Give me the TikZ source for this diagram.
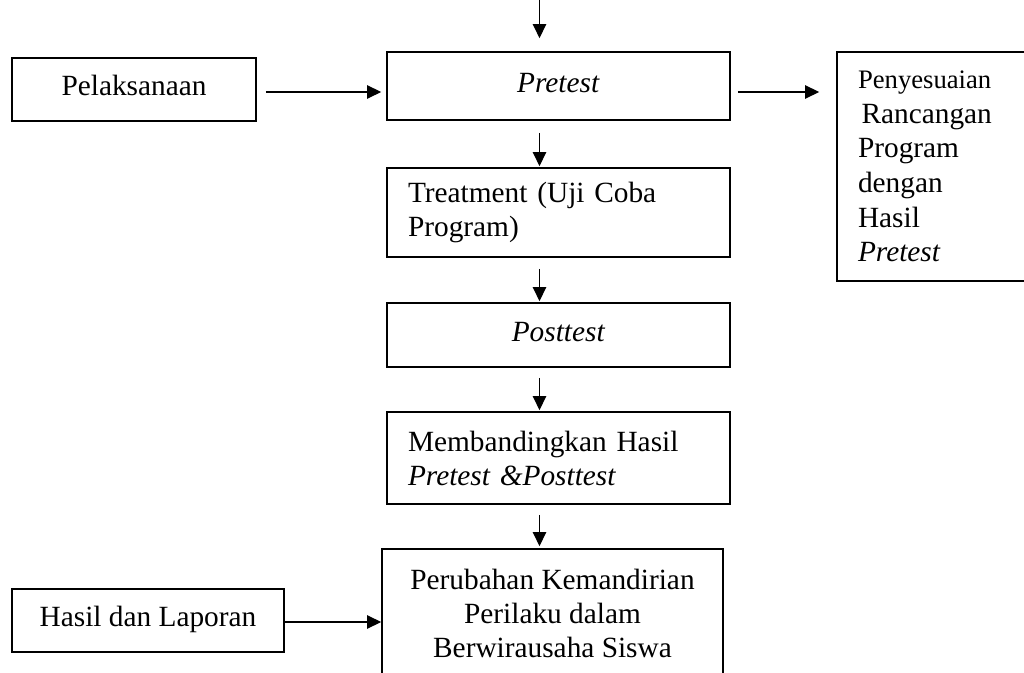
\documentclass[tikz,border=0pt]{standalone}
\usepackage{fontspec}
\setmainfont{Liberation Serif}
\usetikzlibrary{arrows.meta}
\begin{document}
\begin{tikzpicture}[x=0.75pt,y=-0.75pt,
  box/.style={draw,line width=1.25pt,rectangle,inner sep=0pt,font=\fontsize{22}{25.5}\selectfont},
  single/.style={box,text height=15.4pt,text depth=6.2pt},
  leftbox/.style={box,align=left,inner xsep=15.75pt,inner ysep=0pt},
  conn/.style={line width=1pt,-{Triangle[length=10.5pt,width=10pt]}}
]
\useasboundingbox (0,0) rectangle (1024,673);
\clip (0,0) rectangle (1024,673);
\node[single,minimum width=183pt,minimum height=47.25pt] (pel) at (134,89.5) {Pelaksanaan};
\node[single,minimum width=257.25pt,minimum height=51pt] (pre) at (558.5,86) {\textit{Pretest}};
\node[leftbox,text width=225.75pt,minimum height=66.75pt] (treat) at (558.5,212.5) {Treatment (Uji Coba\\Program)};
\node[single,minimum width=257.25pt,minimum height=48pt] (post) at (558.5,335) {\textit{Posttest}};
\node[leftbox,text width=225.75pt,minimum height=69pt] (comp) at (558.5,458) {Membandingkan Hasil\\\textit{Pretest \&Posttest}};
\node[box,align=center,minimum width=255.75pt,minimum height=96.75pt] (res) at (552.5,613.5) {Perubahan Kemandirian\\Perilaku dalam\\Berwirausaha Siswa};
\node[single,minimum width=204pt,minimum height=47.25pt] (hasil) at (148,620.5) {Hasil dan Laporan};
\node[leftbox,font=\fontsize{22}{26}\selectfont,text width=127.5pt,minimum height=171.75pt] (peny) at (943,166.5)
  {{\fontsize{20}{26}\selectfont Penyesuaian}\\\hspace*{0.12em}Rancangan\\Program\\dengan\\Hasil\\\textit{Pretest}};
\coordinate (ax) at (539.5,0);
\coordinate (ay) at (0,92);
\coordinate (by) at (0,622);
\draw[conn,shorten >=9.75pt] (ax) -- (pre.north -| ax);
\draw[conn,shorten <=9pt,shorten >=0.75pt] (pre.south -| ax) -- (treat.north -| ax);
\draw[conn,shorten <=8.25pt,shorten >=0.75pt] (treat.south -| ax) -- (post.north -| ax);
\draw[conn,shorten <=7.5pt,shorten >=0.75pt] (post.south -| ax) -- (comp.north -| ax);
\draw[conn,shorten <=7.5pt,shorten >=1.5pt] (comp.south -| ax) -- (res.north -| ax);
\draw[conn,shorten <=6.75pt,shorten >=3.75pt] (pel.east |- ay) -- (pre.west |- ay);
\draw[conn,shorten <=5.25pt,shorten >=12.75pt] (pre.east |- ay) -- (peny.west |- ay);
\draw[conn] (hasil.east |- by) -- (res.west |- by);
\end{tikzpicture}
\end{document}
